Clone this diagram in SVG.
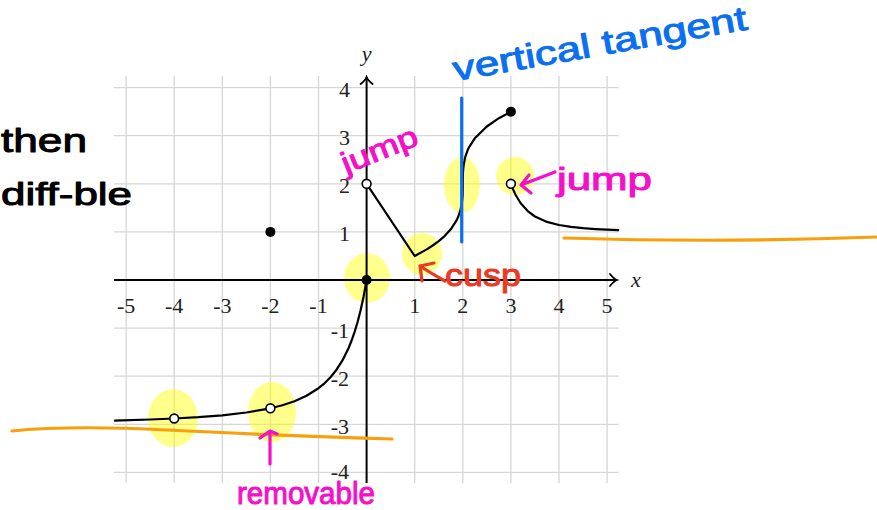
<svg xmlns="http://www.w3.org/2000/svg" width="877" height="510" viewBox="0 0 877 510">
<defs>
<style>
.grid line{stroke:#d6d6d6;stroke-width:1.3}
.axis{stroke:#000;stroke-width:2;fill:none}
.tick{font-family:"Liberation Serif","DejaVu Serif",serif;font-size:22px;fill:#222}
.curve{stroke:#000;stroke-width:2.2;fill:none;stroke-linejoin:round}
.solid{fill:#000}
.open{fill:#fff;stroke:#000;stroke-width:1.6}
.hl{fill:#ffff00;fill-opacity:0.45}
.hand{font-family:"Liberation Sans","DejaVu Sans",sans-serif;stroke-width:1;stroke-linejoin:round}
.mag{fill:#f40fc8;stroke:#f40fc8}
.magS{stroke:#f40fc8;stroke-width:3.2;fill:none;stroke-linecap:round;stroke-linejoin:round}
.redS{stroke:#ea3a25;stroke-width:3.2;fill:none;stroke-linecap:round;stroke-linejoin:round}
.orange{stroke:#f7a00c;stroke-width:3.2;fill:none;stroke-linecap:round}
</style>
<marker id="arr" viewBox="-10 -8 12 16" markerWidth="12" markerHeight="16" refX="0" refY="0" orient="auto" markerUnits="userSpaceOnUse">
<path d="M-7,-6 Q-3,-1 0,0 Q-3,1 -7,6" stroke="#000" stroke-width="1.8" fill="none" stroke-linecap="round"/>
</marker>
</defs>
<rect width="877" height="510" fill="#fff"/>
<g id="grid" class="grid">
<line x1="126.1" y1="76" x2="126.1" y2="483"/>
<line x1="174.2" y1="76" x2="174.2" y2="483"/>
<line x1="222.3" y1="76" x2="222.3" y2="483"/>
<line x1="270.4" y1="76" x2="270.4" y2="483"/>
<line x1="318.5" y1="76" x2="318.5" y2="483"/>
<line x1="414.7" y1="76" x2="414.7" y2="483"/>
<line x1="462.8" y1="76" x2="462.8" y2="483"/>
<line x1="510.9" y1="76" x2="510.9" y2="483"/>
<line x1="559.0" y1="76" x2="559.0" y2="483"/>
<line x1="607.1" y1="76" x2="607.1" y2="483"/>
<line x1="114" y1="87.6" x2="619" y2="87.6"/>
<line x1="114" y1="135.7" x2="619" y2="135.7"/>
<line x1="114" y1="183.8" x2="619" y2="183.8"/>
<line x1="114" y1="231.9" x2="619" y2="231.9"/>
<line x1="114" y1="328.1" x2="619" y2="328.1"/>
<line x1="114" y1="376.2" x2="619" y2="376.2"/>
<line x1="114" y1="424.3" x2="619" y2="424.3"/>
<line x1="114" y1="472.4" x2="619" y2="472.4"/>
</g>
<g id="highlights">
<ellipse class="hl" cx="367" cy="278" rx="23" ry="25"/>
<ellipse class="hl" cx="422" cy="254" rx="20" ry="21"/>
<ellipse class="hl" cx="462" cy="185" rx="18" ry="28"/>
<ellipse class="hl" cx="515" cy="176" rx="19" ry="19"/>
<ellipse class="hl" cx="173" cy="418" rx="25" ry="29"/>
<ellipse class="hl" cx="272" cy="412" rx="24" ry="30"/>
</g>
<g id="axes">
<line class="axis" x1="114" y1="280" x2="617" y2="280" marker-end="url(#arr)"/>
<line class="axis" x1="366.6" y1="483" x2="366.6" y2="77" marker-end="url(#arr)"/>
<text class="tick" x="636" y="287" text-anchor="middle" font-style="italic">x</text>
<text class="tick" x="366.6" y="61" text-anchor="middle" font-style="italic">y</text>
</g>
<g id="tick-labels" class="tick">
<text x="126.1" y="313" text-anchor="middle">-5</text>
<text x="174.2" y="313" text-anchor="middle">-4</text>
<text x="222.3" y="313" text-anchor="middle">-3</text>
<text x="270.4" y="313" text-anchor="middle">-2</text>
<text x="318.5" y="313" text-anchor="middle">-1</text>
<text x="414.7" y="313" text-anchor="middle">1</text>
<text x="462.8" y="313" text-anchor="middle">2</text>
<text x="510.9" y="313" text-anchor="middle">3</text>
<text x="559.0" y="313" text-anchor="middle">4</text>
<text x="607.1" y="313" text-anchor="middle">5</text>
<text x="350" y="97" text-anchor="end">4</text>
<text x="350" y="145" text-anchor="end">3</text>
<text x="350" y="193" text-anchor="end">2</text>
<text x="350" y="241" text-anchor="end">1</text>
<text x="349" y="338" text-anchor="end">-1</text>
<text x="349" y="386" text-anchor="end">-2</text>
<text x="349" y="434" text-anchor="end">-3</text>
<text x="349" y="479" text-anchor="end">-4</text>
</g>
<g id="curves">
<path class="curve" d="M114.1,420.6 L150.2,419.5 L174.2,418.5 L198.3,417.2 L222.3,415.3 L246.4,412.5 L270.4,408.3 L282.4,405.2 L294.5,401.2 L306.5,395.8 L318.5,388.2 L324.5,383.3 L330.5,377.2 L336.5,369.7 L342.6,360.2 L348.6,348.0 L351.6,340.5 L354.6,331.9 L357.6,322.0 L360.6,310.3 L363.6,296.5 L366.6,280"/>
<path class="curve" d="M366.6,183.8 L414.7,256 L426.7,249.4 L432.7,245.5 L438.75,241.1 L444.8,235.8 L450.8,229.3 L456.8,219.9 L458.0,217.3 L460.4,210.4 L461.8,203.4 L462.3,199.3 L462.7,194.2 L462.8,183.8 L462.9,173.4 L463.3,168.3 L463.8,164.2 L465.2,157.2 L467.6,150.3 L468.8,147.7 L474.8,138.3 L486.85,126.5 L498.9,118.2 L510.9,111.65"/>
<path class="curve" d="M510.9,183.8 L513.3,189.9 L515.7,195.05 L520.5,203.0 L527.7,211.1 L535.0,216.5 L547.0,221.9 L559.0,225.0 L571.0,226.9 L583.05,228.2 L595.1,229.07 L607.1,229.7 L619.1,230.1"/>
</g>
<g id="points">
<circle class="solid" cx="270.4" cy="231.9" r="5"/>
<circle class="solid" cx="366.6" cy="280" r="5"/>
<circle class="solid" cx="510.9" cy="111.65" r="5"/>
<circle class="open" cx="366.6" cy="183.8" r="4.4"/>
<circle class="open" cx="510.9" cy="183.8" r="4.4"/>
<circle class="open" cx="174.2" cy="418.5" r="4.4"/>
<circle class="open" cx="270.4" cy="408.3" r="4.4"/>
</g>
<g id="annotations">
<path class="orange" d="M12,431 Q70,425 167,430 T392,439"/>
<path class="orange" d="M564,238 Q720,243 877,237"/>
<line x1="461.7" y1="98" x2="461.7" y2="242" stroke="#0a6ff0" stroke-width="3.2" stroke-linecap="round"/>
<text class="hand" x="1" y="152" font-size="34" textLength="86" lengthAdjust="spacingAndGlyphs" fill="#000" stroke="#000">then</text>
<text class="hand" x="1" y="205" font-size="32" textLength="131" lengthAdjust="spacingAndGlyphs" fill="#000" stroke="#000">diff-ble</text>
<text class="hand mag" x="0" y="0" font-size="30" textLength="80" lengthAdjust="spacingAndGlyphs" transform="translate(346,174) rotate(-22)">jump</text>
<text class="hand" x="0" y="0" font-size="34" textLength="298" lengthAdjust="spacingAndGlyphs" fill="#0a6ff0" stroke="#0a6ff0" transform="translate(455,81) rotate(-10)">vertical tangent</text>
<text class="hand mag" x="557" y="190" font-size="32" textLength="95" lengthAdjust="spacingAndGlyphs">jump</text>
<path class="magS" d="M555,172 L521,185 M529,175 L521,185 L531,193"/>
<text class="hand" x="445" y="286" font-size="32" textLength="76" lengthAdjust="spacingAndGlyphs" fill="#ea3a25" stroke="#ea3a25">cusp</text>
<path class="redS" d="M445,281 Q432,274 420,266 M434,263 L420,266 L422,281"/>
<path class="magS" d="M270,464 L270,431 M260,438 L270,431 L277,434"/>
<text class="hand mag" x="237" y="504" font-size="31" textLength="138" lengthAdjust="spacingAndGlyphs">removable</text>
</g>
</svg>
